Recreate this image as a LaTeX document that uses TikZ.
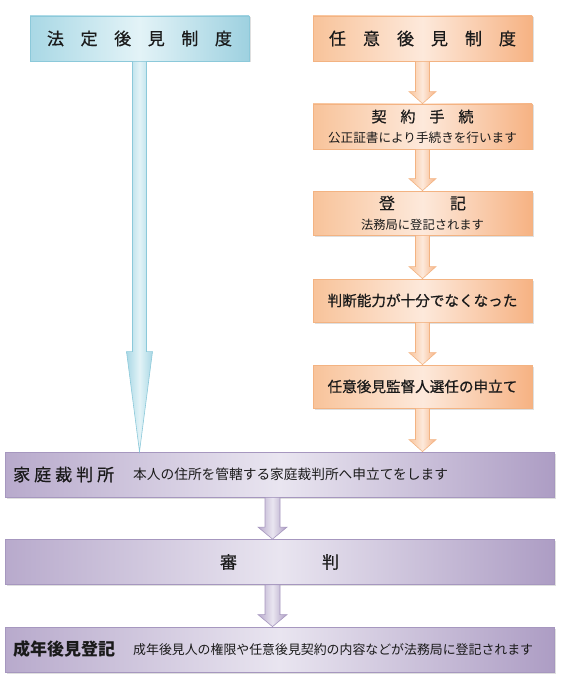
\documentclass[tikz,border=0pt]{standalone}
\usepackage{fontspec}
\newfontfamily\jp{Noto Sans CJK JP}
\newfontfamily\jpm[FakeBold=0.7]{Noto Sans CJK JP}
\usetikzlibrary{shadows,calc}
\definecolor{blueB}{HTML}{8CC9DA}
\definecolor{blueL}{HTML}{A9D8E5}
\definecolor{blueM}{HTML}{E3F3F7}
\definecolor{blueR}{HTML}{9ED1E0}
\definecolor{oraB}{HTML}{F3B382}
\definecolor{oraL}{HTML}{F8C39A}
\definecolor{oraM}{HTML}{FDE9DB}
\definecolor{oraR}{HTML}{F6B283}
\definecolor{purB}{HTML}{A697BF}
\definecolor{purL}{HTML}{B8AACC}
\definecolor{purM}{HTML}{E9E5F0}
\definecolor{purR}{HTML}{AD9DC4}
\definecolor{txt}{HTML}{1A1A1A}
\newcommand\blockarrow[6]{%
  \path[#6] let \p1=(#1), \p2=(#2) in
    (\x1-#3,\y1) -- (\x1+#3,\y1) -- (\x1+#3,\y2+#5) -- (\x1+#4,\y2+#5)
    -- (\x1,\y2) -- (\x1-#4,\y2+#5) -- (\x1-#3,\y2+#5) -- cycle;}
\newcommand\fs[1]{\fontsize{#1pt}{#1pt}\selectfont}
\tikzset{
  shad/.style={drop shadow={opacity=0.25, shadow xshift=1.5pt, shadow yshift=-1.5pt}},
  bluebox/.style={shad, draw=blueB, line width=0.8pt, left color=blueL, right color=blueR, middle color=blueM,
    minimum width=219pt, minimum height=45pt, inner sep=0pt, text=txt, font=\jpm\fs{17}},
  orabox/.style={shad, draw=oraB, line width=0.8pt, left color=oraL, right color=oraR, middle color=oraM,
    minimum width=219pt, inner sep=0pt, text=txt, font=\jp, align=center},
  purbox/.style={shad, draw=purB, line width=0.8pt, left color=purL, right color=purR, middle color=purM,
    minimum width=549pt, minimum height=45pt, inner sep=0pt, text=txt, font=\jp},
  bluearrow/.style={draw=blueB, line width=0.6pt, left color=blueL, right color=blueL, middle color=blueM},
  oraarrow/.style={draw=oraB, line width=0.6pt, left color=oraL, right color=oraR, middle color=oraM},
  purarrow/.style={draw=purB, line width=0.6pt, left color=purL, right color=purR, middle color=purM},
}
\begin{document}
\begin{tikzpicture}[x=1pt,y=-1pt]
\useasboundingbox (0,0) rectangle (560,687);
% top boxes
\node[bluebox] (legal) at (139.5,38.5) {法\hspace{16.6pt}定\hspace{16.6pt}後\hspace{16.6pt}見\hspace{16.6pt}制\hspace{16.6pt}度};
\node[orabox, minimum height=45pt, font=\jpm\fs{17}] (vol) at (422.5,38.5) {任\hspace{17pt}意\hspace{17pt}後\hspace{17pt}見\hspace{17pt}制\hspace{17pt}度};
\node[orabox, minimum height=45pt] (contract) at (422.5,126.5) {{\jpm\fs{15}契\hspace{14pt}約\hspace{14pt}手\hspace{14pt}続}\\[8pt]{\fs{12.6}公正証書により手続きを行います}};
\node[orabox, minimum height=44pt] (reg) at (422.5,213) {{\jpm\fs{16}登\hspace{55pt}記}\\[8pt]{\fs{12.3}法務局に登記されます}};
\node[orabox, minimum height=43pt, font=\jpm\fs{14.6}] (cap) at (422.5,300.5) {判断能力が十分でなくなった};
\node[orabox, minimum height=43pt, font=\jpm\fs{14.6}] (app) at (422.5,386.5) {任意後見監督人選任の申立て};
% purple boxes
\node[purbox] (court) at (279.5,474.5) {};
\node[anchor=west, text=txt, inner sep=0pt, font=\jpm\fs{17}] (courtT) at (13,474.5) {家\hspace{4pt}庭\hspace{4pt}裁\hspace{4pt}判\hspace{4pt}所};
\node[anchor=west, text=txt, inner sep=0pt, font=\jp\fs{13.7}] (courtS) at (133,474.5) {本人の住所を管轄する家庭裁判所へ申立てをします};
\node[purbox, font=\jpm\fs{17}] (trial) at (279.5,562) {審\hspace{85pt}判};
\node[purbox] (regist) at (279.5,649.5) {};
\node[anchor=west, text=txt, inner sep=0pt, font=\jp\bfseries\fs{17}] (registT) at (13,649.5) {成年後見登記};
\node[anchor=west, text=txt, inner sep=0pt, font=\jp\fs{12.9}] (registS) at (133,649.5) {成年後見人の権限や任意後見契約の内容などが法務局に登記されます};
% arrows
\blockarrow{legal.south}{court.north}{7pt}{13pt}{100pt}{bluearrow}
\blockarrow{vol.south}{contract.north}{7pt}{13.5pt}{12pt}{oraarrow}
\blockarrow{contract.south}{reg.north}{7pt}{13.5pt}{12pt}{oraarrow}
\blockarrow{reg.south}{cap.north}{7pt}{13.5pt}{12pt}{oraarrow}
\blockarrow{cap.south}{app.north}{7pt}{13.5pt}{12pt}{oraarrow}
\blockarrow{app.south}{court.north}{7pt}{13.5pt}{12pt}{oraarrow}
\coordinate (c1) at ($(court.south)+(-7,0)$);
\coordinate (c2) at ($(trial.south)+(-7,0)$);
\blockarrow{c1}{trial.north}{7.5pt}{14.5pt}{12pt}{purarrow}
\blockarrow{c2}{regist.north}{7.5pt}{14.5pt}{12pt}{purarrow}
\end{tikzpicture}
\end{document}
